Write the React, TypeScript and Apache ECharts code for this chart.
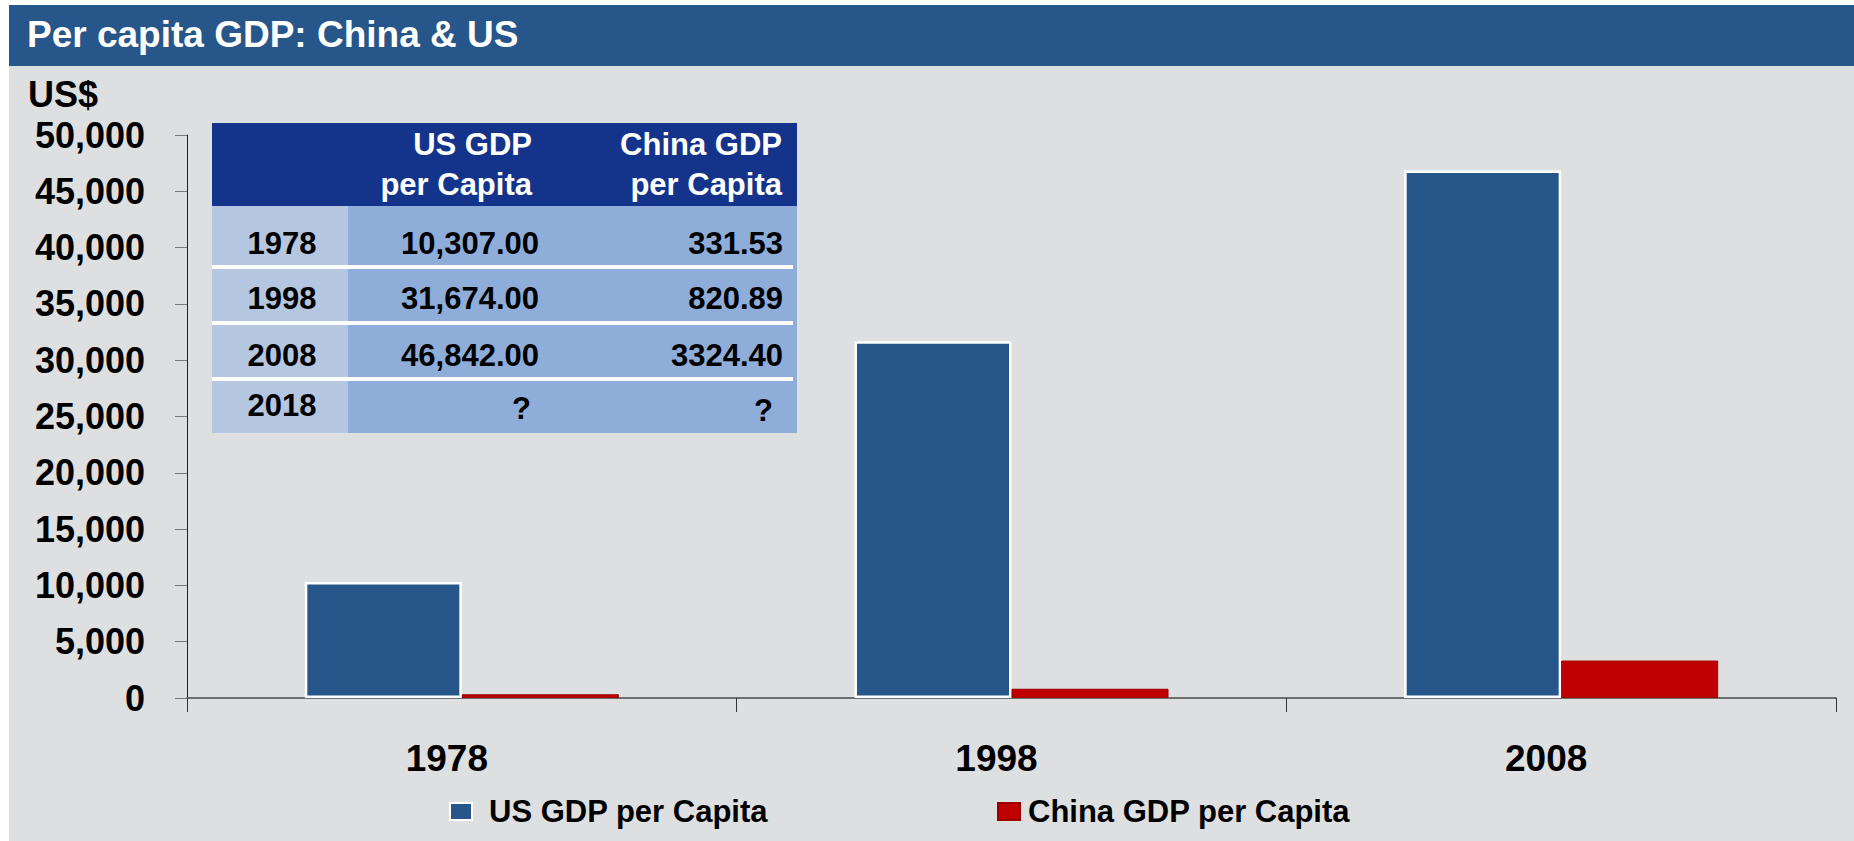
import React, { useEffect, useRef } from "react";
import * as echarts from "echarts";

const titleText = "Per capita GDP: China & US";
const unitLabel = "US$";
const categories = ["1978", "1998", "2008"];
const seriesNames = ["US GDP per Capita", "China GDP per Capita"];
const usGdp = [10307.0, 31674.0, 46842.0];
const chinaGdp = [331.53, 820.89, 3324.4];
const yMin = 0;
const yMax = 50000;
const yInterval = 5000;

const tableHeaders = ["US GDP\nper Capita", "China GDP\nper Capita"];
const tableYears = ["1978", "1998", "2008", "2018"];
const tableUs = ["10,307.00", "31,674.00", "46,842.00", "?"];
const tableChina = ["331.53", "820.89", "3324.40", "?"];

const FONT = "'Liberation Sans', Arial, Helvetica, sans-serif";

export default function App() {
  const ref = useRef<HTMLDivElement>(null);

  useEffect(() => {
    document.body.style.margin = "0";
    if (!ref.current) return;
    const chart = echarts.init(ref.current, undefined, { renderer: "svg" });

    // table geometry
    const tX = 212, tY = 123, tW = 585, headH = 83;
    const yearW = 136;
    const rowCenters = [243, 298, 355, 405];
    const sepYs = [265, 321, 377];
    const tBottom = 433;

    const tableEls: any[] = [
      { type: "rect", shape: { x: tX, y: tY, width: tW, height: headH }, style: { fill: "#13348a" } },
      { type: "rect", shape: { x: tX, y: tY + headH, width: yearW, height: tBottom - tY - headH }, style: { fill: "#b5c6e0" } },
      { type: "rect", shape: { x: tX + yearW, y: tY + headH, width: tW - yearW, height: tBottom - tY - headH }, style: { fill: "#8eadd8" } },
    ];
    sepYs.forEach((y) => {
      tableEls.push({ type: "rect", shape: { x: tX, y: y, width: 581, height: 4 }, style: { fill: "#ffffff" } });
    });
    tableEls.push({
      type: "text", x: 532, y: 164.5,
      style: { text: tableHeaders[0], fill: "#ffffff", font: `bold 31px ${FONT}`, align: "right", verticalAlign: "middle", lineHeight: 40 },
    });
    tableEls.push({
      type: "text", x: 782, y: 164.5,
      style: { text: tableHeaders[1], fill: "#ffffff", font: `bold 31px ${FONT}`, align: "right", verticalAlign: "middle", lineHeight: 40 },
    });
    tableYears.forEach((yr, i) => {
      const cy = rowCenters[i];
      tableEls.push({ type: "text", x: 282, y: cy, style: { text: yr, fill: "#000", font: `bold 31px ${FONT}`, align: "center", verticalAlign: "middle" } });
      const isQ = tableUs[i] === "?";
      tableEls.push({ type: "text", x: isQ ? 531 : 539, y: isQ ? cy + 3 : cy, style: { text: tableUs[i], fill: "#000", font: `bold 31px ${FONT}`, align: "right", verticalAlign: "middle" } });
      const isQc = tableChina[i] === "?";
      tableEls.push({ type: "text", x: isQc ? 773 : 783, y: isQc ? cy + 5 : cy, style: { text: tableChina[i], fill: "#000", font: `bold 31px ${FONT}`, align: "right", verticalAlign: "middle" } });
    });

    const option: any = {
      animation: false,
      backgroundColor: "#ffffff",
      textStyle: { fontFamily: FONT },
      graphic: [
        { type: "rect", z: -10, shape: { x: 9, y: 66, width: 1845, height: 775 }, style: { fill: "#dedfe1" } },
        { type: "rect", z: -10, shape: { x: 9, y: 5, width: 1845, height: 61 }, style: { fill: "#27568a" } },
        { type: "text", z: 10, x: 27, y: 34, style: { text: titleText, fill: "#ffffff", font: `bold 37px ${FONT}`, verticalAlign: "middle" } },
        { type: "text", z: 10, x: 28, y: 94, style: { text: unitLabel, fill: "#000000", font: `bold 36px ${FONT}`, verticalAlign: "middle" } },
        { type: "group", z: 100, children: tableEls },
      ],
      grid: { left: 187, right: 18, top: 135, bottom: 143, containLabel: false },
      legend: [
        {
          data: [seriesNames[0]], left: 444, top: 791, icon: "rect", itemWidth: 22, itemHeight: 17,
          textStyle: { fontFamily: FONT, fontWeight: "bold", fontSize: 31, color: "#000", padding: [0, 0, 0, 12] },
        },
        {
          data: [seriesNames[1]], left: 992, top: 791, icon: "rect", itemWidth: 22, itemHeight: 17,
          textStyle: { fontFamily: FONT, fontWeight: "bold", fontSize: 31, color: "#000", padding: [0, 0, 0, 3] },
        },
      ],
      xAxis: {
        type: "category",
        data: categories,
        axisLine: { show: true, lineStyle: { color: "#6e6e6e", width: 2 } },
        axisTick: { show: true, length: 14, lineStyle: { color: "#333", width: 1 } },
        axisLabel: {
          margin: 60, verticalAlign: "middle", fontSize: 37, fontWeight: "bold", color: "#000",
          fontFamily: FONT, padding: [0, 30, 0, 0],
        },
        splitLine: { show: false },
      },
      yAxis: {
        type: "value",
        min: yMin, max: yMax, interval: yInterval,
        axisLine: { show: true, lineStyle: { color: "#222", width: 1 } },
        axisTick: { show: true, length: 12, lineStyle: { color: "#777", width: 1 } },
        axisLabel: {
          margin: 42, fontSize: 36, fontWeight: "bold", color: "#000", fontFamily: FONT,
          padding: [8, 0, 0, 0],
          formatter: (v: number) => v.toLocaleString("en-US"),
        },
        splitLine: { show: false },
      },
      series: [
        {
          name: seriesNames[0], type: "bar", data: usGdp, barWidth: 157, barGap: "0%",
          itemStyle: { color: "#27568a", borderColor: "#ffffff", borderWidth: 2.5 },
        },
        {
          name: seriesNames[1], type: "bar", data: chinaGdp, barWidth: 157, barGap: "0%",
          itemStyle: { color: "#c00000", borderColor: "#9a0000", borderWidth: 1 },
        },
      ],
    };
    chart.setOption(option);
    return () => chart.dispose();
  }, []);

  return <div ref={ref} style={{ width: 1854, height: 841 }} />;
}
